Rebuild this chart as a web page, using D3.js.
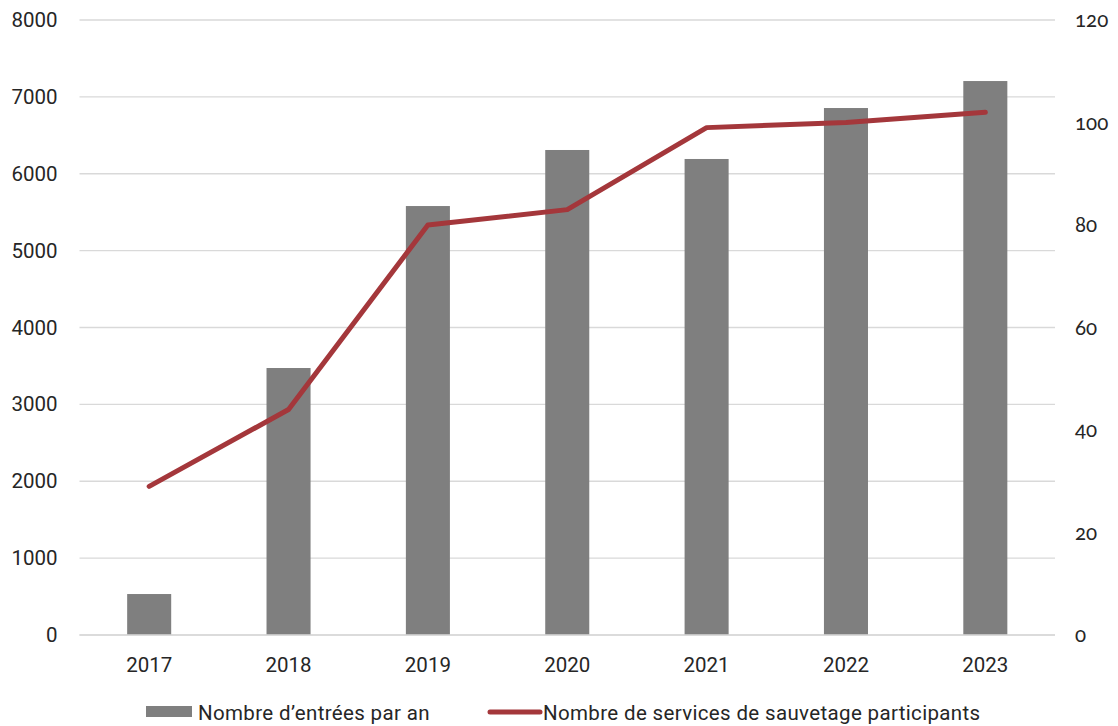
<!DOCTYPE html>
<html><head><meta charset="utf-8">
<script src="https://cdn.jsdelivr.net/npm/d3@7"></script>
<style>body{margin:0;background:#fff}svg{display:block}</style>
</head><body>
<svg id="c" width="1118" height="726"></svg>
<script>
const years = ["2017","2018","2019","2020","2021","2022","2023"];
const entries = [533, 3473, 5580, 6309, 6192, 6855, 7206];
const services = [29, 44, 80, 83, 99, 100, 102];
const leftTicks = [0,1000,2000,3000,4000,5000,6000,7000,8000];
const rightTicks = [0,20,40,60,80,100,120];
const legendLabels = ["Nombre d\u2019entrées par an","Nombre de services de sauvetage participants"];

const svg = d3.select("#c");
const L = 79.5, R = 1055, T = 20, B = 635;
const x = d3.scaleBand().domain(years).range([L,R]).paddingInner(0.684).paddingOuter(0.342);
const yL = d3.scaleLinear().domain([0,8000]).range([B,T]);
const yR = d3.scaleLinear().domain([0,120]).range([B,T]);
const font = "Roboto, 'Liberation Sans', sans-serif";
const fs = 20.5;

// gridlines
svg.append("g").selectAll("line").data(leftTicks).join("line")
  .attr("x1",L).attr("x2",R).attr("y1",d=>yL(d)).attr("y2",d=>yL(d))
  .attr("stroke","#d9d9d9").attr("stroke-width",1.3);

// left axis
const gl = svg.append("g").attr("transform",`translate(${L},0)`)
  .call(d3.axisLeft(yL).tickValues(leftTicks).tickSize(0).tickPadding(22).tickFormat(d3.format("d")));
gl.select(".domain").remove();
gl.selectAll("text").attr("font-family",font).attr("font-size",fs).attr("fill","#262626");

// right axis
const gr = svg.append("g").attr("transform",`translate(${R},0)`)
  .call(d3.axisRight(yR).tickValues(rightTicks).tickSize(0).tickPadding(20).tickFormat(d3.format("d")));
gr.select(".domain").remove();
gr.selectAll("text").attr("font-family","Lato, sans-serif").attr("font-size",20.5).attr("fill","#262626")
  .style("font-variant-numeric","oldstyle-nums").style("font-feature-settings","'onum' 1");

// x axis
const gx = svg.append("g").attr("transform",`translate(0,${B})`)
  .call(d3.axisBottom(x).tickSize(0).tickPadding(22));
gx.select(".domain").remove();
gx.selectAll("text").attr("font-family",font).attr("font-size",fs).attr("fill","#262626");

// bars
svg.append("g").selectAll("rect").data(years).join("rect")
  .attr("x",d=>x(d)).attr("width",x.bandwidth())
  .attr("y",(d,i)=>yL(entries[i])).attr("height",(d,i)=>B-yL(entries[i]))
  .attr("fill","#7f7f7f");

// baseline
svg.append("line").attr("x1",L).attr("x2",R).attr("y1",B).attr("y2",B)
  .attr("stroke","#d9d9d9").attr("stroke-width",1.5);

// line
const line = d3.line().x((d,i)=>x(years[i])+x.bandwidth()/2).y(d=>yR(d));
svg.append("path").datum(services).attr("d",line)
  .attr("fill","none").attr("stroke","#a4373b").attr("stroke-width",5)
  .attr("stroke-linejoin","round").attr("stroke-linecap","round");

// legend
const lg = svg.append("g");
lg.append("rect").attr("x",146).attr("y",706).attr("width",46).attr("height",11).attr("fill","#7f7f7f");
lg.append("text").attr("x",198).attr("y",720).text(legendLabels[0])
  .attr("font-family",font).attr("font-size",fs).attr("fill","#262626").attr("letter-spacing",0.35);
lg.append("line").attr("x1",490).attr("x2",540).attr("y1",712).attr("y2",712)
  .attr("stroke","#a4373b").attr("stroke-width",5).attr("stroke-linecap","round");
lg.append("text").attr("x",543).attr("y",720).text(legendLabels[1])
  .attr("font-family",font).attr("font-size",fs).attr("fill","#262626").attr("letter-spacing",0.35);
</script>
</body></html>
